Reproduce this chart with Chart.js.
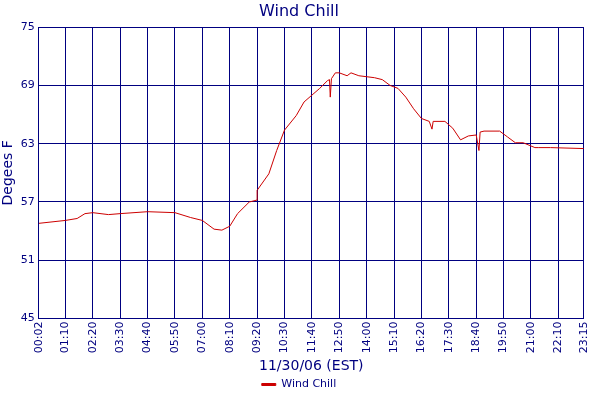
<!DOCTYPE html>
<html><head><meta charset="utf-8">
<script src="https://cdn.jsdelivr.net/npm/chart.js@4"></script>
<style>body{margin:0;background:#fff}</style>
</head><body><canvas id="c" width="600" height="400"></canvas>
<script>
// minutes since midnight
const minutes = [2,70,100,120,140,180,210,280,350,390,420,450,470,490,510,540,560,560,590,610,630,660,680,700,720,740,745,747,750,760,770,790,800,820,860,880,900,920,940,960,980,1000,1007,1010,1040,1060,1080,1100,1120,1127,1130,1140,1180,1200,1220,1240,1270,1280,1310,1395];
const windChill = [54.8,55.1,55.3,55.8,55.9,55.7,55.8,56.0,55.9,55.4,55.1,54.2,54.1,54.5,55.8,57.0,57.2,58.2,59.9,62.3,64.4,65.9,67.3,68.0,68.7,69.5,69.6,67.8,69.7,70.3,70.3,70.0,70.3,70.0,69.8,69.6,69.0,68.7,67.8,66.6,65.6,65.3,64.5,65.3,65.3,64.6,63.4,63.8,63.9,62.3,64.2,64.3,64.3,63.7,63.1,63.1,62.6,62.6,62.6,62.5];
const tickMinutes = [2,70,140,210,280,350,420,490,560,630,700,770,840,910,980,1050,1120,1190,1260,1330,1395];
const yTicks = [45,51,57,63,69,75];
const navy = '#000080';
const fmt = m => String(Math.floor(m/60)).padStart(2,'0') + ':' + String(m%60).padStart(2,'0');

new Chart(document.getElementById('c'), {
  type: 'line',
  data: {
    datasets: [{
      label: 'Wind Chill',
      data: minutes.map((m, i) => ({x: m, y: windChill[i]})),
      borderColor: '#cc0000',
      backgroundColor: '#cc0000',
      borderWidth: 1,
      pointRadius: 0,
      tension: 0
    }]
  },
  options: {
    responsive: false,
    animation: false,
    layout: { padding: { right: 2, top: 0 } },
    plugins: {
      title: { display: true, text: 'Wind Chill', color: navy, font: { family: 'DejaVu Sans', size: 16, weight: 'normal' }, padding: { top: 2, bottom: 6 } },
      legend: {
        position: 'bottom',
        labels: { color: navy, font: { family: 'DejaVu Sans', size: 11 }, boxWidth: 14, boxHeight: 2, padding: 4 }
      },
      tooltip: { enabled: false }
    },
    scales: {
      x: {
        type: 'linear', min: 2, max: 1395,
        afterBuildTicks: s => { s.ticks = tickMinutes.map(v => ({value: v})); },
        ticks: { color: navy, font: { family: 'DejaVu Sans', size: 11 }, maxRotation: 90, minRotation: 90, autoSkip: false, callback: v => fmt(v) },
        grid: { color: navy, lineWidth: 1, drawTicks: false },
        border: { color: navy },
        title: { display: true, text: '11/30/06 (EST)', color: navy, font: { family: 'DejaVu Sans', size: 14 }, padding: { top: 2, bottom: 0 } }
      },
      y: {
        min: 45, max: 75,
        afterBuildTicks: s => { s.ticks = yTicks.map(v => ({value: v})); },
        ticks: { color: navy, font: { family: 'DejaVu Sans', size: 11 }, padding: 4 },
        grid: { color: navy, lineWidth: 1, drawTicks: false },
        border: { color: navy },
        title: { display: true, text: 'Degees F', color: navy, font: { family: 'DejaVu Sans', size: 14 }, padding: 0 }
      }
    }
  }
});
</script>
</body></html>
